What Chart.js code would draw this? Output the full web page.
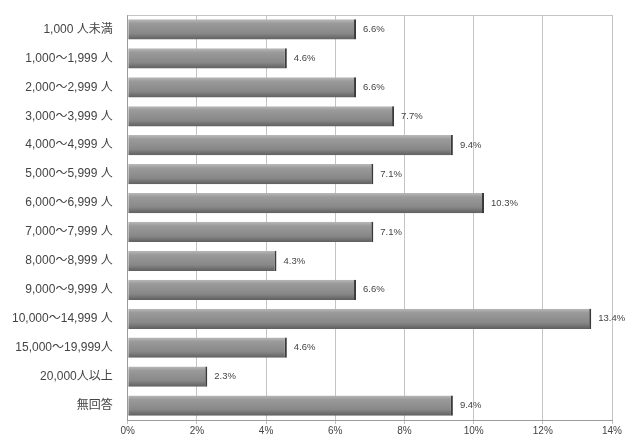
<!DOCTYPE html>
<html>
<head>
<meta charset="utf-8">
<script src="https://cdn.jsdelivr.net/npm/chart.js@4"></script>
<style>
    html, body { margin: 0; padding: 0; background: #fff; }
    #wrap { width: 628px; height: 438px; }
</style>
</head>
<body>
<div id="wrap"><canvas id="chart" width="628" height="438"></canvas></div>
<script>
// Categories (employee size bands)
const categories = [
    '1,000 人未満', '1,000～1,999 人', '2,000～2,999 人', '3,000～3,999 人',
    '4,000～4,999 人', '5,000～5,999 人', '6,000～6,999 人', '7,000～7,999 人',
    '8,000～8,999 人', '9,000～9,999 人', '10,000～14,999 人', '15,000～19,999人',
    '20,000人以上', '無回答'
];

// Share of respondents (%)
const shares = [6.6, 4.6, 6.6, 7.7, 9.4, 7.1, 10.3, 7.1, 4.3, 6.6, 13.4, 4.6, 2.3, 9.4];

// X axis ticks
const xTicks = [0, 2, 4, 6, 8, 10, 12, 14];

const fontFamily = '"Liberation Sans", "Noto Sans CJK JP", sans-serif';

// Vertical gradient for each bar, built from the y scale position
function barGradient(context) {
    const chart = context.chart;
    const yScale = chart.scales.y;
    if (!yScale || !chart.chartArea) return '#8a8a8a';
    const cy = yScale.getPixelForValue(context.dataIndex);
    const half = 10;
    const g = chart.ctx.createLinearGradient(0, cy - half, 0, cy + half);
    g.addColorStop(0, '#b8b8b8');
    g.addColorStop(0.2, '#9a9a9a');
    g.addColorStop(0.7, '#888888');
    g.addColorStop(1, '#606060');
    return g;
}

// Value labels to the right of each bar
const valueLabels = {
    id: 'valueLabels',
    afterDatasetsDraw(chart) {
        const ctx = chart.ctx;
        const meta = chart.getDatasetMeta(0);
        ctx.save();
        ctx.font = '9.5px ' + fontFamily;
        ctx.fillStyle = '#444';
        ctx.textBaseline = 'middle';
        meta.data.forEach((bar, i) => {
            ctx.fillText(shares[i].toFixed(1) + '%', bar.x + 7, bar.y);
        });
        ctx.restore();
    }
};

new Chart(document.getElementById('chart'), {
    type: 'bar',
    data: {
        labels: categories,
        datasets: [{
            data: shares,
            backgroundColor: barGradient,
            borderColor: '#3a3a3a',
            borderWidth: { top: 0, right: 2, bottom: 0, left: 0 },
            borderSkipped: false,
            categoryPercentage: 1,
            barPercentage: 0.7
        }]
    },
    options: {
        indexAxis: 'y',
        responsive: false,
        animation: false,
        layout: { padding: { top: 15, right: 16, left: 5, bottom: 0 } },
        plugins: {
            legend: { display: false },
            tooltip: { enabled: false }
        },
        scales: {
            x: {
                min: 0,
                max: 14,
                afterBuildTicks(scale) {
                    scale.ticks = xTicks.map(v => ({ value: v }));
                },
                grid: { color: '#c4c4c4', lineWidth: 1, drawTicks: true, tickLength: 4 },
                border: { color: '#9a9a9a' },
                ticks: {
                    color: '#444',
                    font: { family: fontFamily, size: 10 },
                    padding: 1,
                    callback: v => v + '%'
                }
            },
            y: {
                grid: { display: false },
                border: { color: '#9a9a9a' },
                ticks: {
                    color: '#444',
                    font: { family: fontFamily, size: 12 },
                    padding: 7
                }
            }
        }
    },
    plugins: [valueLabels, {
        id: 'frame',
        afterDraw(chart) {
            const a = chart.chartArea;
            const ctx = chart.ctx;
            ctx.save();
            ctx.strokeStyle = '#c4c4c4';
            ctx.lineWidth = 1;
            ctx.beginPath();
            ctx.moveTo(a.left, a.top + 0.5);
            ctx.lineTo(a.right, a.top + 0.5);
            ctx.stroke();
            ctx.restore();
        }
    }]
});
</script>
</body>
</html>
